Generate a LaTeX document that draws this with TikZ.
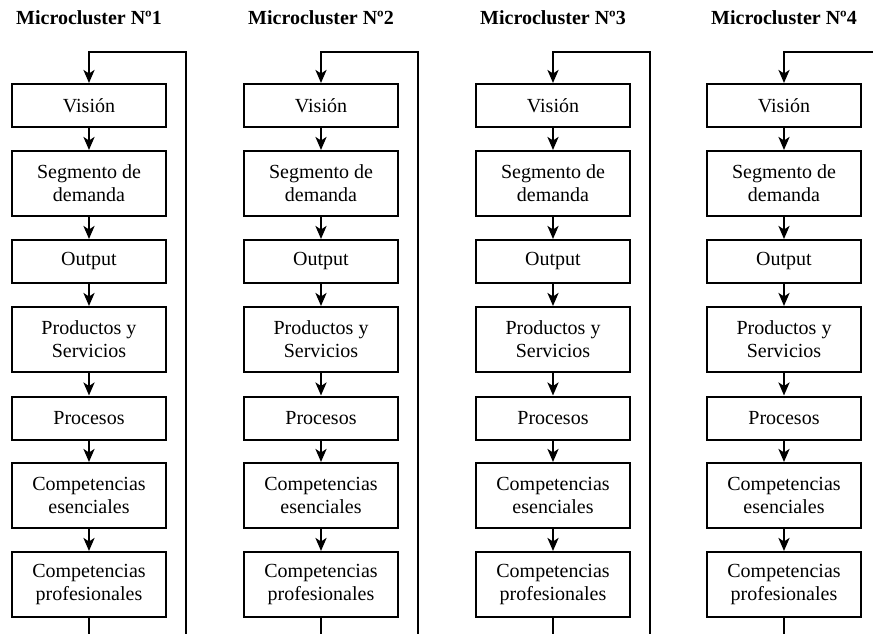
\documentclass[tikz,border=0pt]{standalone}
\usepackage{fontspec}
\setmainfont{Liberation Serif}
\usetikzlibrary{arrows.meta}

\begin{document}
\begin{tikzpicture}[
  x=1pt, y=1pt,
  font=\fontsize{20}{23}\selectfont,
  stage/.style = {draw, line width=2pt, minimum width=154pt,
                  align=center, inner sep=2pt},
  shortstage/.style = {stage, minimum height=43pt},
  tallstage/.style = {stage, minimum height=65pt},
  title/.style = {font=\fontsize{20}{23}\selectfont\bfseries},
  arrow/.style = {-{Stealth[length=13pt, width=11pt, inset=3.5pt]}, line width=2.8pt},
  loopline/.style = {arrow, line join=miter}
]

% Page frame (the feedback lines run off the bottom and right edge)
\useasboundingbox (0,0) rectangle (873,-634);
\clip (0,0) rectangle (873,-634);

% Microcluster 1
\node[title] (title1) at (89,-18) {Microcluster Nº1};
\node[shortstage] (vision1) at (89,-105.5) {Visión};
\node[tallstage] (segment1) at (89,-183.5) {Segmento de\\demanda};
\node[shortstage] (output1) at (89,-261.5) {Output};
\node[tallstage] (products1) at (89,-339.5) {Productos y\\Servicios};
\node[shortstage] (processes1) at (89,-418) {Procesos};
\node[tallstage] (coreskills1) at (89,-495.5) {Competencias\\esenciales};
\node[tallstage] (proskills1) at (89,-584.5) {Competencias\\profesionales};
\coordinate (loopfoot1) at (89,-660);
\coordinate (loopback1) at (186,-660);
\coordinate (loopcorner1) at (186,-52);
\coordinate (looptop1) at (89,-52);

% Microcluster 2
\node[title] (title2) at (321,-18) {Microcluster Nº2};
\node[shortstage] (vision2) at (321,-105.5) {Visión};
\node[tallstage] (segment2) at (321,-183.5) {Segmento de\\demanda};
\node[shortstage] (output2) at (321,-261.5) {Output};
\node[tallstage] (products2) at (321,-339.5) {Productos y\\Servicios};
\node[shortstage] (processes2) at (321,-418) {Procesos};
\node[tallstage] (coreskills2) at (321,-495.5) {Competencias\\esenciales};
\node[tallstage] (proskills2) at (321,-584.5) {Competencias\\profesionales};
\coordinate (loopfoot2) at (321,-660);
\coordinate (loopback2) at (418,-660);
\coordinate (loopcorner2) at (418,-52);
\coordinate (looptop2) at (321,-52);

% Microcluster 3
\node[title] (title3) at (553,-18) {Microcluster Nº3};
\node[shortstage] (vision3) at (553,-105.5) {Visión};
\node[tallstage] (segment3) at (553,-183.5) {Segmento de\\demanda};
\node[shortstage] (output3) at (553,-261.5) {Output};
\node[tallstage] (products3) at (553,-339.5) {Productos y\\Servicios};
\node[shortstage] (processes3) at (553,-418) {Procesos};
\node[tallstage] (coreskills3) at (553,-495.5) {Competencias\\esenciales};
\node[tallstage] (proskills3) at (553,-584.5) {Competencias\\profesionales};
\coordinate (loopfoot3) at (553,-660);
\coordinate (loopback3) at (650,-660);
\coordinate (loopcorner3) at (650,-52);
\coordinate (looptop3) at (553,-52);

% Microcluster 4
\node[title] (title4) at (784,-18) {Microcluster Nº4};
\node[shortstage] (vision4) at (784,-105.5) {Visión};
\node[tallstage] (segment4) at (784,-183.5) {Segmento de\\demanda};
\node[shortstage] (output4) at (784,-261.5) {Output};
\node[tallstage] (products4) at (784,-339.5) {Productos y\\Servicios};
\node[shortstage] (processes4) at (784,-418) {Procesos};
\node[tallstage] (coreskills4) at (784,-495.5) {Competencias\\esenciales};
\node[tallstage] (proskills4) at (784,-584.5) {Competencias\\profesionales};
\coordinate (loopfoot4) at (784,-660);
\coordinate (loopback4) at (881,-660);
\coordinate (loopcorner4) at (881,-52);
\coordinate (looptop4) at (784,-52);

% Arrows
\draw[arrow] (vision1) -- (segment1);
\draw[arrow] (segment1) -- (output1);
\draw[arrow] (output1) -- (products1);
\draw[arrow] (products1) -- (processes1);
\draw[arrow] (processes1) -- (coreskills1);
\draw[arrow] (coreskills1) -- (proskills1);
\draw[loopline] (proskills1) -- (loopfoot1) -- (loopback1) -- (loopcorner1) -- (looptop1) -- (vision1);

\draw[arrow] (vision2) -- (segment2);
\draw[arrow] (segment2) -- (output2);
\draw[arrow] (output2) -- (products2);
\draw[arrow] (products2) -- (processes2);
\draw[arrow] (processes2) -- (coreskills2);
\draw[arrow] (coreskills2) -- (proskills2);
\draw[loopline] (proskills2) -- (loopfoot2) -- (loopback2) -- (loopcorner2) -- (looptop2) -- (vision2);

\draw[arrow] (vision3) -- (segment3);
\draw[arrow] (segment3) -- (output3);
\draw[arrow] (output3) -- (products3);
\draw[arrow] (products3) -- (processes3);
\draw[arrow] (processes3) -- (coreskills3);
\draw[arrow] (coreskills3) -- (proskills3);
\draw[loopline] (proskills3) -- (loopfoot3) -- (loopback3) -- (loopcorner3) -- (looptop3) -- (vision3);

\draw[arrow] (vision4) -- (segment4);
\draw[arrow] (segment4) -- (output4);
\draw[arrow] (output4) -- (products4);
\draw[arrow] (products4) -- (processes4);
\draw[arrow] (processes4) -- (coreskills4);
\draw[arrow] (coreskills4) -- (proskills4);
\draw[loopline] (proskills4) -- (loopfoot4) -- (loopback4) -- (loopcorner4) -- (looptop4) -- (vision4);

\end{tikzpicture}
\end{document}
